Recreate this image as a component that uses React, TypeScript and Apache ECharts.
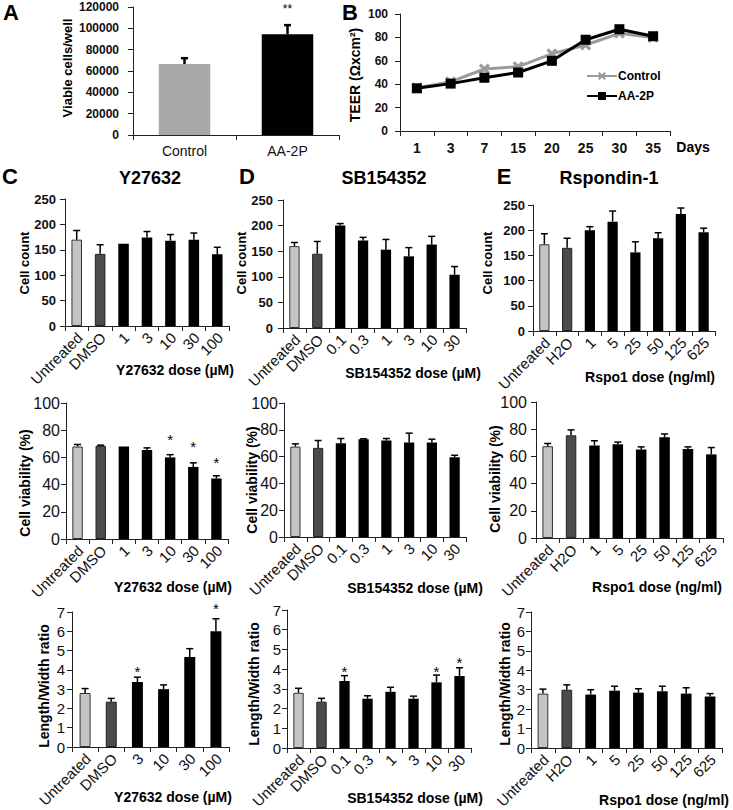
import React, { useEffect, useRef } from "react";
import * as echarts from "echarts";

const FONT = 'Arial, "Liberation Sans", Helvetica, sans-serif';

// ---------- Panel A ----------
const aCategories = ["Control", "AA-2P"];
const aValues = [66500, 94500];
const aErrTop = [72000, 103000];
const aStars: (number | null)[] = [null, 121000];

// ---------- Panel B ----------
const bDays = ["1", "3", "7", "15", "20", "25", "30", "35"];
const bControl = [37, 42, 53, 55, 66, 73.5, 83.5, 80];
const bAA2P = [36.5, 40.5, 45.5, 50, 60, 78, 87, 81];

// ---------- Panel C (Y27632) ----------
const cCats = ["Untreated", "DMSO", "1", "3", "10", "30", "100"];
const cCount = [170, 142, 162, 174, 168, 170, 141];
const cCountErr = [188, 160, 162, 186, 180, 183, 155];
const cViab = [68, 68.5, 68, 65.5, 60, 53, 44.5];
const cViabErr = [69.5, 69, 68, 67, 62, 56, 46.5];
const cViabStars: (number | null)[] = [null, null, null, null, 76.5, 71.5, 59.5];
const cRatioCats = ["Untreated", "DMSO", "3", "10", "30", "100"];
const cRatio = [2.8, 2.35, 3.37, 3.0, 4.67, 6.0];
const cRatioErr = [3.03, 2.52, 3.62, 3.22, 5.1, 6.65];
const cRatioStars: (number | null)[] = [null, null, 4.13, null, null, 7.4];

// ---------- Panel D (SB154352) ----------
const dCats = ["Untreated", "DMSO", "0.1", "0.3", "1", "3", "10", "30"];
const dCount = [160, 145, 200, 171, 153, 140, 163, 104];
const dCountErr = [167, 169, 204, 177, 173, 157, 179, 120];
const dViab = [67.5, 66.5, 70, 73, 72, 70.5, 70.5, 59.5];
const dViabErr = [69.5, 72, 73.5, 73.3, 73.5, 77.5, 73, 61];
const dRatio = [2.8, 2.35, 3.4, 2.5, 2.85, 2.5, 3.33, 3.65];
const dRatioErr = [3.03, 2.52, 3.67, 2.65, 3.08, 2.63, 3.7, 4.07];
const dRatioStars: (number | null)[] = [null, null, 4.09, null, null, null, 4.09, 4.55];

// ---------- Panel E (Rspondin-1) ----------
const eCats = ["Untreated", "H2O", "1", "5", "25", "50", "125", "625"];
const eCount = [172, 165, 200, 217, 156, 184, 232, 196];
const eCountErr = [193, 184, 207, 238, 177, 195, 244, 204];
const eViab = [67.5, 75.5, 68, 69, 65, 74, 65.5, 61.5];
const eViabErr = [69.5, 79.5, 71.5, 70.5, 67, 76.5, 67, 66.5];
const eRatio = [2.8, 3.0, 2.75, 2.95, 2.85, 2.92, 2.8, 2.65];
const eRatioErr = [3.03, 3.25, 3.0, 3.18, 3.05, 3.18, 3.1, 2.8];

// ---------- layout ----------
const grids = [
  { left: 133, top: 7, width: 206, height: 128 }, // 0 A
  { left: 400, top: 14, width: 270, height: 117 }, // 1 B
  { left: 65, top: 199, width: 164, height: 127 }, // 2 C1
  { left: 283, top: 200, width: 183, height: 128 }, // 3 D1
  { left: 533, top: 205, width: 182, height: 126 }, // 4 E1
  { left: 66, top: 403, width: 162, height: 136 }, // 5 C2
  { left: 284, top: 403, width: 182, height: 134 }, // 6 D2
  { left: 536, top: 402, width: 187, height: 136 }, // 7 E2
  { left: 72, top: 612, width: 157, height: 135 }, // 8 C3
  { left: 287, top: 610, width: 184, height: 138 }, // 9 D3
  { left: 531, top: 612, width: 191, height: 136 }, // 10 E3
];

const AXIS_COLOR = "#222";

function xCat(gi: number, cats: string[], fs: number, bold: boolean, showLabel: boolean, margin: number) {
  return {
    type: "category",
    gridIndex: gi,
    data: cats,
    boundaryGap: true,
    axisLine: { show: true, lineStyle: { color: AXIS_COLOR, width: 1 } },
    axisTick: { show: true, inside: false, length: 5, interval: 0, lineStyle: { color: AXIS_COLOR } },
    axisLabel: {
      show: showLabel,
      interval: 0,
      margin,
      fontSize: fs,
      fontWeight: bold ? "bold" : "normal",
      fontFamily: FONT,
      color: "#111",
    },
    splitLine: { show: false },
  };
}

function yVal(gi: number, max: number, interval: number, fs: number, bold: boolean, margin: number) {
  return {
    type: "value",
    gridIndex: gi,
    min: 0,
    max,
    interval,
    axisLine: { show: true, lineStyle: { color: AXIS_COLOR, width: 1 } },
    axisTick: { show: true, inside: false, length: 5, lineStyle: { color: AXIS_COLOR } },
    axisLabel: {
      margin,
      fontSize: fs,
      fontWeight: bold ? "bold" : "normal",
      fontFamily: FONT,
      color: "#111",
      formatter: (v: number) => String(v),
    },
    splitLine: { show: false },
  };
}

function barColor(i: number) {
  if (i === 0) return { color: "#c4c4c4", borderColor: "#333", borderWidth: 1 };
  if (i === 1) return { color: "#4b4b4b", borderColor: "#222", borderWidth: 1 };
  return { color: "#000000", borderColor: "#000", borderWidth: 0 };
}

function barSeries(gi: number, vals: number[], width: string) {
  return {
    type: "bar",
    xAxisIndex: gi,
    yAxisIndex: gi,
    barWidth: width,
    silent: true,
    z: 2,
    data: vals.map((v, i) => ({ value: v, itemStyle: barColor(i) })),
  };
}

function errSeries(gi: number, vals: number[], errs: number[], half: number, lw: number) {
  return {
    type: "custom",
    xAxisIndex: gi,
    yAxisIndex: gi,
    z: 4,
    silent: true,
    data: vals.map((v, i) => [i, v, errs[i]]),
    renderItem: (_p: any, api: any) => {
      const i = api.value(0);
      const v = api.value(1);
      const e = api.value(2);
      if (!(e > v)) return { type: "group", children: [] };
      const p0 = api.coord([i, v]);
      const p1 = api.coord([i, e]);
      return {
        type: "group",
        children: [
          { type: "line", shape: { x1: p0[0], y1: p0[1], x2: p1[0], y2: p1[1] }, style: { stroke: "#000", lineWidth: lw } },
          { type: "line", shape: { x1: p1[0] - half, y1: p1[1], x2: p1[0] + half, y2: p1[1] }, style: { stroke: "#000", lineWidth: lw } },
        ],
      };
    },
  };
}

function starSeries(gi: number, stars: (number | null)[], text: string, fs: number) {
  const data: number[][] = [];
  stars.forEach((s, i) => {
    if (s != null) data.push([i, s]);
  });
  return {
    type: "custom",
    xAxisIndex: gi,
    yAxisIndex: gi,
    z: 5,
    silent: true,
    clip: false,
    data,
    renderItem: (_p: any, api: any) => {
      const p = api.coord([api.value(0), api.value(1)]);
      return {
        type: "text",
        x: p[0],
        y: p[1] + 0.29 * fs,
        style: {
          text,
          fill: "#000",
          fontSize: fs,
          fontFamily: FONT,
          align: "center",
          verticalAlign: "middle",
          textAlign: "center",
          textVerticalAlign: "middle",
        },
      };
    },
  };
}

// rotated (45°) category labels, drawn at the axis positions of each category
function rotLabelSeries(gi: number, cats: string[], fs: number) {
  return {
    type: "custom",
    xAxisIndex: gi,
    yAxisIndex: gi,
    z: 5,
    silent: true,
    clip: false,
    data: cats.map((_c, i) => [i, 0]),
    renderItem: (params: any, api: any) => {
      const p = api.coord([api.value(0), 0]);
      return {
        type: "text",
        x: p[0] + 3,
        y: p[1] + 9,
        rotation: Math.PI / 4,
        style: {
          text: cats[params.dataIndex],
          fill: "#111",
          fontSize: fs,
          fontFamily: FONT,
          align: "right",
          verticalAlign: "middle",
          textAlign: "right",
          textVerticalAlign: "middle",
        },
      };
    },
  };
}

function txt(text: string, x: number, y: number, fs: number, bold: boolean, rot = 0, align = "center") {
  return {
    type: "text",
    x,
    y,
    rotation: rot,
    silent: true,
    z: 10,
    style: {
      text,
      fontSize: fs,
      fontWeight: bold ? "bold" : "normal",
      fontFamily: FONT,
      fill: "#000",
      align,
      verticalAlign: "middle",
      textAlign: align,
      textVerticalAlign: "middle",
    },
  };
}

const R = Math.PI / 2;

const xCrossPath =
  "path://M0,2 L2,0 L5,3 L8,0 L10,2 L7,5 L10,8 L8,10 L5,7 L2,10 L0,8 L3,5 Z";

function buildOption() {
  const xAxis = [
    xCat(0, aCategories, 14, false, true, 9),
    xCat(1, bDays, 14, true, true, 10),
    xCat(2, cCats, 15, false, false, 6),
    xCat(3, dCats, 15, false, false, 6),
    xCat(4, eCats, 15, false, false, 6),
    xCat(5, cCats, 15, false, false, 6),
    xCat(6, dCats, 15, false, false, 6),
    xCat(7, eCats, 15, false, false, 6),
    xCat(8, cRatioCats, 15, false, false, 6),
    xCat(9, dCats, 15, false, false, 6),
    xCat(10, eCats, 15, false, false, 6),
  ];
  const yAxis = [
    yVal(0, 120000, 20000, 12, true, 14),
    yVal(1, 100, 20, 12, true, 12),
    yVal(2, 250, 50, 13, true, 9),
    yVal(3, 250, 50, 13, true, 10),
    yVal(4, 250, 50, 13, true, 8),
    yVal(5, 100, 20, 16, false, 6),
    yVal(6, 100, 20, 16, false, 6),
    yVal(7, 100, 20, 16, false, 9),
    yVal(8, 7, 1, 15, false, 7),
    yVal(9, 7, 1, 15, false, 6),
    yVal(10, 7, 1, 15, false, 6),
  ];

  const series: any[] = [
    // A
    {
      type: "bar",
      xAxisIndex: 0,
      yAxisIndex: 0,
      barWidth: "50%",
      silent: true,
      data: aValues.map((v, i) => ({
        value: v,
        itemStyle: { color: i === 0 ? "#a9a9a9" : "#000" },
      })),
    },
    errSeries(0, aValues, aErrTop, 3.5, 2.5),
    starSeries(0, aStars, "**", 12),
    // B
    {
      name: "Control",
      type: "line",
      xAxisIndex: 1,
      yAxisIndex: 1,
      data: bControl,
      symbol: xCrossPath,
      symbolSize: 11,
      lineStyle: { color: "#9a9a9a", width: 3 },
      itemStyle: { color: "#9a9a9a" },
      z: 2,
    },
    {
      name: "AA-2P",
      type: "line",
      xAxisIndex: 1,
      yAxisIndex: 1,
      data: bAA2P,
      symbol: "rect",
      symbolSize: 10,
      lineStyle: { color: "#000", width: 3 },
      itemStyle: { color: "#000" },
      z: 3,
    },
    // C
    barSeries(2, cCount, "45%"),
    errSeries(2, cCount, cCountErr, 3.5, 1.5),
    rotLabelSeries(2, cCats, 15),
    barSeries(5, cViab, "45%"),
    errSeries(5, cViab, cViabErr, 3.5, 1.5),
    starSeries(5, cViabStars, "*", 15),
    rotLabelSeries(5, cCats, 15),
    barSeries(8, cRatio, "42%"),
    errSeries(8, cRatio, cRatioErr, 3.5, 1.5),
    starSeries(8, cRatioStars, "*", 15),
    rotLabelSeries(8, cRatioCats, 15),
    // D
    barSeries(3, dCount, "45%"),
    errSeries(3, dCount, dCountErr, 3.5, 1.5),
    rotLabelSeries(3, dCats, 15),
    barSeries(6, dViab, "45%"),
    errSeries(6, dViab, dViabErr, 3.5, 1.5),
    rotLabelSeries(6, dCats, 15),
    barSeries(9, dRatio, "45%"),
    errSeries(9, dRatio, dRatioErr, 3.5, 1.5),
    starSeries(9, dRatioStars, "*", 15),
    rotLabelSeries(9, dCats, 15),
    // E
    barSeries(4, eCount, "45%"),
    errSeries(4, eCount, eCountErr, 3.5, 1.5),
    rotLabelSeries(4, eCats, 15),
    barSeries(7, eViab, "45%"),
    errSeries(7, eViab, eViabErr, 3.5, 1.5),
    rotLabelSeries(7, eCats, 15),
    barSeries(10, eRatio, "45%"),
    errSeries(10, eRatio, eRatioErr, 3.5, 1.5),
    rotLabelSeries(10, eCats, 15),
  ];

  const graphic = [
    // panel letters
    txt("A", 11, 12, 22, true),
    txt("B", 350, 12, 22, true),
    txt("C", 10, 176, 22, true),
    txt("D", 247, 176, 22, true),
    txt("E", 504, 176, 22, true),
    // panel titles
    txt("Y27632", 150, 178, 18, true),
    txt("SB154352", 384, 178, 18, true),
    txt("Rspondin-1", 609, 178, 18, true),
    // A & B axis titles
    txt("Viable cells/well", 67, 68, 13, true, R),
    txt("TEER (Ωxcm²)", 355, 75, 14, true, R),
    txt("Days", 693, 147, 14, true),
    // row 1 y titles
    txt("Cell count", 24, 263, 13, true, R),
    txt("Cell count", 241, 263, 13, true, R),
    txt("Cell count", 487, 263, 13, true, R),
    // row 2 y titles
    txt("Cell viability (%)", 25, 483, 14, true, R),
    txt("Cell viability (%)", 252, 480, 14, true, R),
    txt("Cell viability (%)", 495, 479, 14, true, R),
    // row 3 y titles
    txt("Length/Width ratio", 44, 686, 14, true, R),
    txt("Length/Width ratio", 254, 684, 14, true, R),
    txt("Length/Width ratio", 505, 684, 14, true, R),
    // x titles
    txt("Y27632 dose (µM)", 175, 370, 14, true),
    txt("SB154352 dose (µM)", 413, 373, 14, true),
    txt("Rspo1 dose (ng/ml)", 650, 377, 14, true),
    txt("Y27632 dose (µM)", 173, 587, 14, true),
    txt("SB154352 dose (µM)", 415, 588, 14, true),
    txt("Rspo1 dose (ng/ml)", 657, 587, 14, true),
    txt("Y27632 dose (µM)", 173, 797, 14, true),
    txt("SB154352 dose (µM)", 415, 798, 14, true),
    txt("Rspo1 dose (ng/ml)", 664, 800, 14, true),
  ];

  return {
    animation: false,
    backgroundColor: "#ffffff",
    textStyle: { fontFamily: FONT },
    grid: grids.map((g) => ({ ...g, containLabel: false, outerBoundsMode: "none" })),
    xAxis,
    yAxis,
    legend: {
      show: true,
      orient: "vertical",
      left: 586,
      top: 70,
      padding: 0,
      itemWidth: 30,
      itemHeight: 10,
      itemGap: 8,
      data: ["Control", "AA-2P"],
      textStyle: { fontSize: 12, fontWeight: "bold", fontFamily: FONT, color: "#000", padding: [0, 0, 0, -4] },
    },
    series,
    graphic,
  };
}

export default function App() {
  const ref = useRef<HTMLDivElement>(null);
  useEffect(() => {
    if (!ref.current) return;
    const chart = echarts.init(ref.current, null, { renderer: "svg" });
    chart.setOption(buildOption() as any);
    return () => chart.dispose();
  }, []);
  return (
    <div
      ref={ref}
      style={{ position: "fixed", left: 0, top: 0, width: 733, height: 810, background: "#fff" }}
    />
  );
}
